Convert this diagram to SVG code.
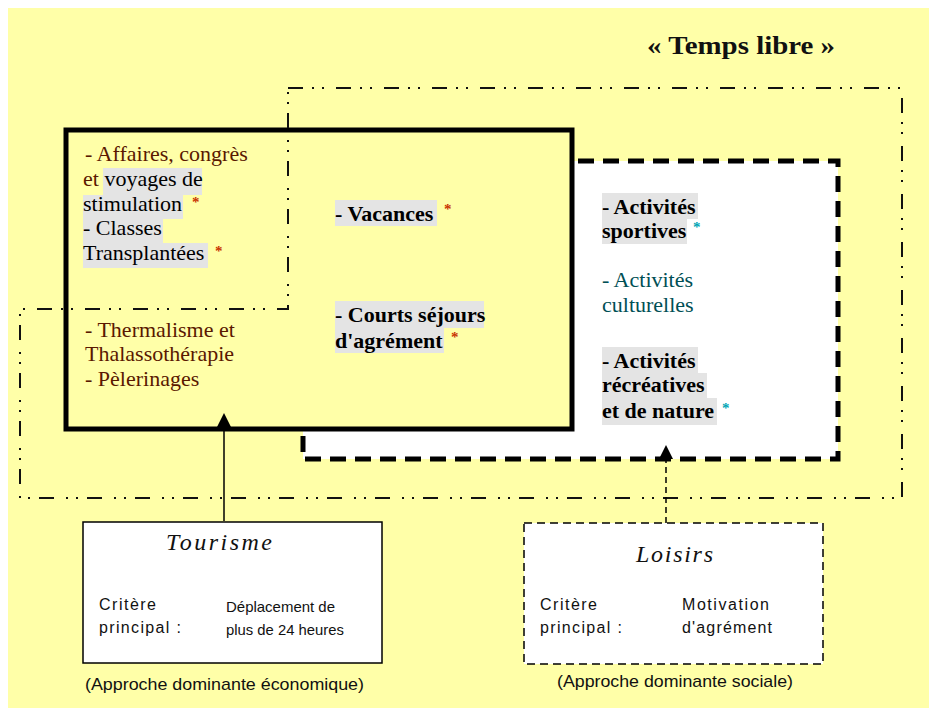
<svg xmlns="http://www.w3.org/2000/svg" width="929" height="708" viewBox="0 0 929 708">
<style>
.ser{font-family:"Liberation Serif","Times New Roman",serif;font-size:22px}
.b{font-weight:bold}
.brown{fill:#5a1800}
.teal{fill:#004f55}
.blk{fill:#000}
.hl{fill:#e4e4e4}
.ast{font-family:"Liberation Serif",serif;font-size:15px;font-weight:bold}
.astr{fill:#c83200}
.astt{fill:#00a4b4}
.sans{font-family:"Liberation Sans",Arial,sans-serif;fill:#111}
.ttl{font-family:"Liberation Serif",serif;font-style:italic;font-size:24px;fill:#111}
.frame{fill:none;stroke:#111;stroke-width:2;stroke-dasharray:15 9 2 8 2 12}
</style>
<defs>
<marker id="arrow" markerUnits="userSpaceOnUse" markerWidth="14" markerHeight="14" viewBox="0 0 14 14" refX="0" refY="7" orient="auto">
<path d="M0,0 L14,7 L0,14 z" fill="#000"/>
</marker>
</defs>
<rect x="8" y="8" width="921" height="700" fill="#ffffa8"/>

<g id="loisirs-zone">
<rect x="303" y="161" width="535" height="298" fill="#fff" stroke="#000" stroke-width="5" stroke-dasharray="16 9"/>
</g>

<g id="tourisme-zone">
<rect x="66" y="130" width="506" height="299" fill="#ffffa8" stroke="#000" stroke-width="5"/>
</g>

<g id="temps-libre">
<path class="frame" d="M288,88 H902 V498 H20 V309 H288 Z"/>
<text x="647" y="54" class="b" font-family="Liberation Serif,serif" font-size="26" fill="#111" textLength="188" lengthAdjust="spacingAndGlyphs">« Temps libre »</text>
</g>

<g id="tourisme-items">
<rect class="hl" x="103" y="168" width="99" height="27"/>
<rect class="hl" x="83" y="195" width="100" height="24"/>
<rect class="hl" x="83" y="219" width="80" height="24"/>
<rect class="hl" x="83" y="243" width="125" height="25"/>
<text class="ser brown" x="85" y="161">- Affaires, congrès</text>
<text class="ser" x="83" y="186"><tspan class="brown">et</tspan><tspan class="blk"> voyages de</tspan></text>
<text class="ser blk" x="83" y="211">stimulation</text>
<text class="ast astr" x="192" y="207">*</text>
<text class="ser blk" x="83" y="235">- Classes</text>
<text class="ser blk" x="83" y="260">Transplantées</text>
<text class="ast astr" x="215" y="256">*</text>
<text class="ser brown" x="85" y="337">- Thermalisme et</text>
<text class="ser brown" x="85" y="361">Thalassothérapie</text>
<text class="ser brown" x="85" y="386">- Pèlerinages</text>
</g>

<g id="common-items">
<rect class="hl" x="335" y="200" width="102" height="26"/>
<text class="ser b blk" x="335" y="221">- Vacances</text>
<text class="ast astr" x="444" y="214">*</text>
<rect class="hl" x="335" y="301" width="149" height="27"/>
<rect class="hl" x="335" y="328" width="109" height="25"/>
<text class="ser b blk" x="335" y="322">- Courts séjours</text>
<text class="ser b blk" x="335" y="348">d'agrément</text>
<text class="ast astr" x="451" y="342">*</text>
</g>

<g id="loisirs-items">
<rect class="hl" x="602" y="193" width="96" height="26"/>
<rect class="hl" x="602" y="219" width="85" height="25"/>
<text class="ser b blk" x="602" y="214">- Activités</text>
<text class="ser b blk" x="602" y="238">sportives</text>
<text class="ast astt" x="693" y="232">*</text>
<text class="ser teal" x="602" y="287">- Activités</text>
<text class="ser teal" x="602" y="312">culturelles</text>
<rect class="hl" x="602" y="347" width="96" height="26"/>
<rect class="hl" x="602" y="373" width="105" height="25"/>
<rect class="hl" x="602" y="398" width="115" height="27"/>
<text class="ser b blk" x="602" y="368">- Activités</text>
<text class="ser b blk" x="602" y="392">récréatives</text>
<text class="ser b blk" x="602" y="418">et de nature</text>
<text class="ast astt" x="722" y="413">*</text>
</g>

<g id="connectors">
<line x1="224" y1="521" x2="224" y2="427" stroke="#000" stroke-width="1.5" marker-end="url(#arrow)"/>
<line x1="666" y1="523" x2="666" y2="459" stroke="#000" stroke-width="1.5" stroke-dasharray="6 4" marker-end="url(#arrow)"/>
</g>

<g id="tourisme">
<rect x="83" y="522" width="299" height="141" fill="#fff" stroke="#000" stroke-width="1.5"/>
<text class="ttl" x="166" y="550" textLength="106" lengthAdjust="spacing">Tourisme</text>
<text class="sans" x="99" y="610" font-size="16" textLength="57" lengthAdjust="spacing">Critère</text>
<text class="sans" x="99" y="633" font-size="16" textLength="82" lengthAdjust="spacing">principal :</text>
<text class="sans" x="226" y="612" font-size="15" textLength="109" lengthAdjust="spacingAndGlyphs">Déplacement de</text>
<text class="sans" x="226" y="635" font-size="15" textLength="118" lengthAdjust="spacingAndGlyphs">plus de 24 heures</text>
<text class="sans" x="85" y="690" font-size="17" textLength="279" lengthAdjust="spacingAndGlyphs">(Approche dominante économique)</text>
</g>

<g id="loisirs">
<rect x="524" y="523" width="299" height="141" fill="#fff" stroke="#000" stroke-width="1.5" stroke-dasharray="8 5"/>
<text class="ttl" x="636" y="562" textLength="77" lengthAdjust="spacing">Loisirs</text>
<text class="sans" x="540" y="610" font-size="16" textLength="57" lengthAdjust="spacing">Critère</text>
<text class="sans" x="540" y="633" font-size="16" textLength="82" lengthAdjust="spacing">principal :</text>
<text class="sans" x="682" y="610" font-size="16" textLength="87" lengthAdjust="spacing">Motivation</text>
<text class="sans" x="682" y="633" font-size="16" textLength="90" lengthAdjust="spacing">d'agrément</text>
<text class="sans" x="557" y="687" font-size="17" textLength="236" lengthAdjust="spacingAndGlyphs">(Approche dominante sociale)</text>
</g>
</svg>
